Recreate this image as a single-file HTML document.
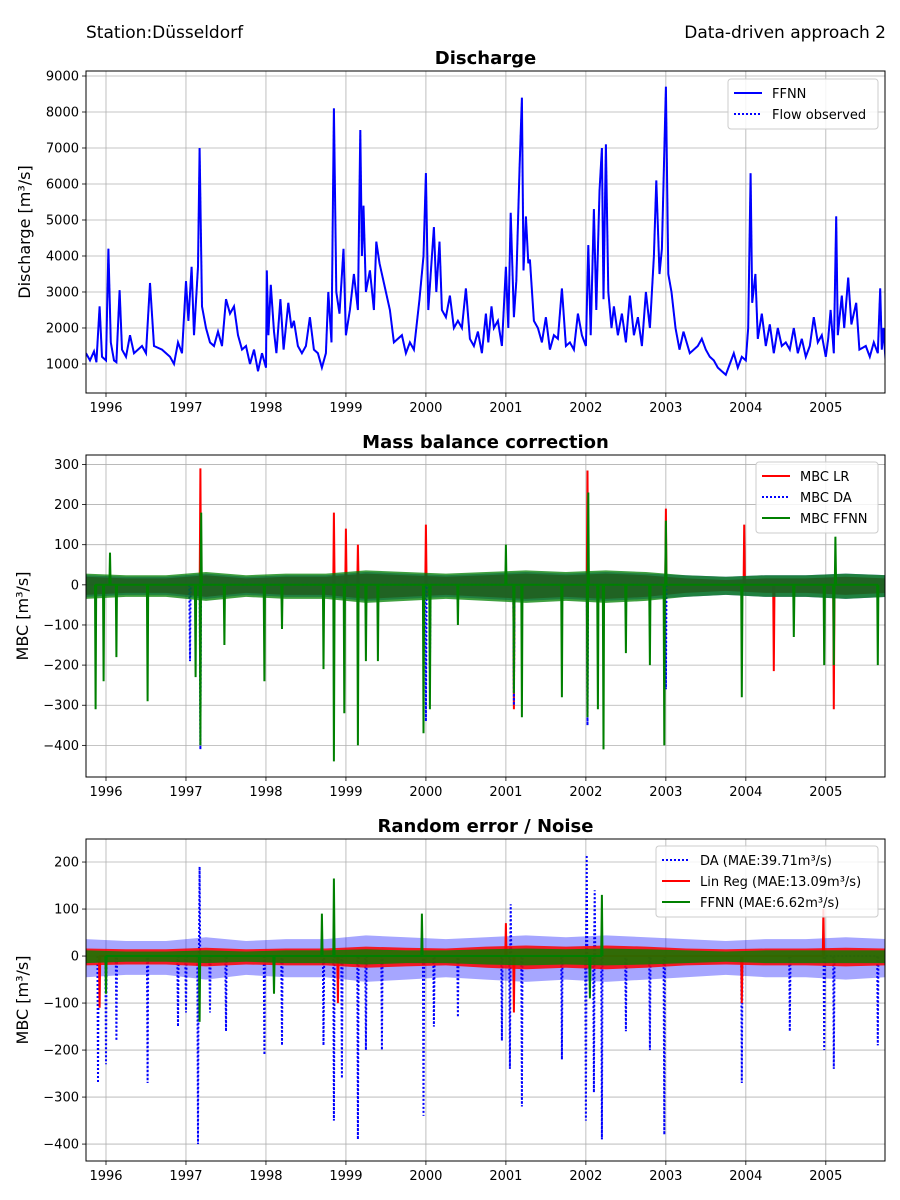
<!DOCTYPE html>
<html><head><meta charset="utf-8">
<style>
body{margin:0;background:#fff;}
svg{display:block;font-family:"DejaVu Sans","Liberation Sans",sans-serif;}
</style></head>
<body>
<svg id="chart" width="900" height="1200" viewBox="0 0 900 1200" xmlns="http://www.w3.org/2000/svg">
<text x="86" y="38" font-size="17">Station:Düsseldorf</text>
<text x="886" y="38" font-size="17" text-anchor="end">Data-driven approach 2</text>
</svg>
<script>
// ---------- data ----------
const years = [1996,1997,1998,1999,2000,2001,2002,2003,2004,2005];
const flowTicks = [1000,2000,3000,4000,5000,6000,7000,8000,9000];
const mbcTicks = [-400,-300,-200,-100,0,100,200,300];
const noiseTicks = [-400,-300,-200,-100,0,100,200];

const flowDates = [1995.75,1995.8,1995.85,1995.88,1995.92,1995.95,1996.0,1996.03,1996.06,1996.1,1996.13,1996.17,1996.2,1996.25,1996.3,1996.35,1996.45,1996.5,1996.55,1996.6,1996.7,1996.8,1996.85,1996.9,1996.95,1997.0,1997.03,1997.07,1997.1,1997.15,1997.17,1997.2,1997.25,1997.3,1997.35,1997.4,1997.45,1997.5,1997.55,1997.6,1997.65,1997.7,1997.75,1997.8,1997.85,1997.9,1997.95,1998.0,1998.01,1998.03,1998.06,1998.1,1998.13,1998.18,1998.22,1998.28,1998.32,1998.35,1998.4,1998.45,1998.5,1998.55,1998.6,1998.65,1998.7,1998.75,1998.78,1998.82,1998.85,1998.88,1998.92,1998.97,1999.0,1999.05,1999.1,1999.15,1999.18,1999.2,1999.22,1999.25,1999.3,1999.35,1999.38,1999.42,1999.5,1999.55,1999.6,1999.7,1999.75,1999.8,1999.85,1999.92,1999.97,2000.0,2000.03,2000.06,2000.1,2000.13,2000.17,2000.2,2000.25,2000.3,2000.35,2000.4,2000.45,2000.5,2000.55,2000.6,2000.65,2000.7,2000.75,2000.78,2000.82,2000.85,2000.9,2000.95,2001.0,2001.03,2001.06,2001.1,2001.13,2001.17,2001.2,2001.22,2001.25,2001.28,2001.3,2001.35,2001.4,2001.45,2001.5,2001.55,2001.6,2001.65,2001.7,2001.75,2001.8,2001.85,2001.9,2001.95,2002.0,2002.03,2002.06,2002.1,2002.13,2002.17,2002.2,2002.22,2002.25,2002.28,2002.32,2002.35,2002.4,2002.45,2002.5,2002.55,2002.6,2002.65,2002.7,2002.75,2002.8,2002.85,2002.88,2002.92,2002.95,2003.0,2003.03,2003.07,2003.12,2003.17,2003.22,2003.3,2003.4,2003.45,2003.5,2003.55,2003.6,2003.65,2003.7,2003.75,2003.8,2003.85,2003.9,2003.95,2004.0,2004.03,2004.06,2004.08,2004.12,2004.15,2004.2,2004.25,2004.3,2004.35,2004.4,2004.45,2004.5,2004.55,2004.6,2004.65,2004.7,2004.75,2004.8,2004.85,2004.9,2004.95,2005.0,2005.03,2005.06,2005.1,2005.13,2005.15,2005.2,2005.23,2005.28,2005.32,2005.38,2005.42,2005.5,2005.55,2005.6,2005.65,2005.68,2005.7,2005.72,2005.75];
const flowFFNN = [1300,1100,1350,1050,2600,1200,1100,4200,1600,1100,1050,3050,1400,1200,1800,1300,1500,1300,3250,1500,1400,1200,1000,1600,1300,3300,2200,3700,1800,3700,7000,2600,2000,1600,1500,1900,1500,2800,2400,2600,1800,1400,1500,1000,1400,800,1300,900,3600,1800,3200,1900,1300,2800,1400,2700,2000,2200,1500,1300,1500,2300,1400,1300,900,1300,3000,1600,8100,3000,2400,4200,1800,2500,3500,2500,7500,4000,5400,3000,3600,2500,4400,3800,3000,2500,1600,1800,1300,1600,1400,2800,4000,6300,2500,3500,4800,3000,4400,2500,2300,2900,2000,2200,2000,3100,1700,1500,1900,1300,2400,1600,2600,2000,2200,1500,3700,2000,5200,2300,3300,6400,8400,3600,5100,3800,3900,2200,2000,1600,2300,1400,1800,1700,3100,1500,1600,1400,2400,1800,1500,4300,1800,5300,2500,5800,7000,2800,7100,3000,2000,2600,1800,2400,1600,2900,1800,2300,1500,3000,2000,4000,6100,3500,4200,8700,3500,3000,2000,1400,1900,1300,1500,1700,1400,1200,1100,900,800,700,1000,1300,900,1200,1100,2000,6300,2700,3500,1700,2400,1500,2100,1300,2000,1500,1600,1400,2000,1300,1700,1200,1500,2300,1600,1800,1200,1700,2500,1300,5100,1800,2900,2000,3400,2100,2700,1400,1500,1200,1600,1300,3100,1400,2000,1000];
const flowObserved = flowFFNN.slice();

// band envelopes (semi-annual amplitude, m3/s), starting 1995.75, step 0.5
const bandDates = [1995.75,1996.25,1996.75,1997.25,1997.75,1998.25,1998.75,1999.25,1999.75,2000.25,2000.75,2001.25,2001.75,2002.25,2002.75,2003.25,2003.75,2004.25,2004.75,2005.25,2005.75];
const mbcLRAmp   = [25,20,20,30,20,25,25,35,30,25,30,35,30,35,30,20,15,20,20,25,20];
const mbcDAAmp   = [30,25,25,35,25,30,30,40,35,30,35,40,35,40,35,30,25,30,30,35,30];
const mbcFFNNAmp = [35,30,30,40,30,35,35,45,40,35,40,45,40,45,40,30,25,30,30,35,30];
const noiseDAAmp = [45,40,40,50,40,45,45,55,50,45,50,55,50,55,50,45,40,45,45,50,45];
const noiseLRAmp = [20,18,18,22,18,20,20,25,22,20,25,28,25,28,25,20,18,20,20,22,20];
const noiseFFNNAmp=[15,12,12,15,12,15,15,18,15,15,18,20,18,20,18,15,12,15,15,15,15];

const mbcFFNNSpikeT = [1995.87,1995.97,1996.05,1996.13,1996.52,1997.12,1997.18,1997.19,1997.48,1997.98,1998.2,1998.72,1998.85,1998.98,1999.15,1999.25,1999.4,1999.97,2000.05,2000.4,2001.0,2001.1,2001.2,2001.7,2002.02,2002.03,2002.15,2002.22,2002.5,2002.8,2002.98,2003.0,2003.95,2004.6,2004.98,2005.1,2005.12,2005.65];
const mbcFFNNSpikeV = [-310,-240,80,-180,-290,-230,-400,180,-150,-240,-110,-210,-440,-320,-400,-190,-190,-370,-310,-100,100,-270,-330,-280,-330,230,-310,-410,-170,-200,-400,160,-280,-130,-200,-200,120,-200];
const mbcLRSpikeT = [1997.18,1998.85,1999.0,1999.15,2000.0,2001.1,2002.02,2003.0,2003.98,2004.35,2005.1];
const mbcLRSpikeV = [290,180,140,100,150,-310,285,190,150,-215,-310];
const mbcDASpikeT = [1997.05,1997.18,2000.0,2000.05,2001.1,2002.02,2003.0];
const mbcDASpikeV = [-190,-410,-340,-210,-300,-350,-260];

const noiseDASpikeT = [1995.9,1996.0,1996.13,1996.52,1996.9,1997.0,1997.15,1997.17,1997.3,1997.5,1997.98,1998.2,1998.72,1998.85,1998.95,1999.15,1999.25,1999.45,1999.97,2000.1,2000.4,2000.95,2001.05,2001.06,2001.2,2001.7,2002.0,2002.01,2002.1,2002.11,2002.2,2002.5,2002.8,2002.98,2003.95,2004.55,2004.98,2005.1,2005.65];
const noiseDASpikeV = [-270,-230,-180,-270,-150,-120,-400,190,-120,-160,-210,-190,-190,-350,-260,-390,-200,-200,-340,-150,-130,-180,-240,110,-320,-220,-350,215,-290,140,-390,-160,-200,-380,-270,-160,-200,-240,-190];
const noiseLRSpikeT = [1995.92,1998.9,2001.0,2001.1,2003.95,2004.97];
const noiseLRSpikeV = [-110,-100,70,-120,-100,100];
const noiseFFNNSpikeT = [1996.0,1997.17,1998.1,1998.7,1998.85,1999.95,2002.05,2002.2];
const noiseFFNNSpikeV = [-80,-140,-80,90,165,90,-90,130];

// ---------- drawing ----------
const NS = "http://www.w3.org/2000/svg";
const svg = document.getElementById('chart');
const X0 = 86, X1 = 885, T0 = 1995.75, T1 = 2005.74;
function xs(t){ return X0 + (t - T0) * (X1 - X0) / (T1 - T0); }
function mk(tag, attrs, parent){
  const e = document.createElementNS(NS, tag);
  for (const k in attrs) e.setAttribute(k, attrs[k]);
  (parent || svg).appendChild(e);
  return e;
}
function makeAxis(top, bottom, vTop, vBot, ticks, title, ylabel, name){
  const g = mk('g', {});
  
  
  const ys = v => top + (vTop - v) * (bottom - top) / (vTop - vBot);
  const clipId = name + '-clip';
  const cp = mk('clipPath', {id: clipId}, g);
  mk('rect', {x: X0, y: top, width: X1 - X0, height: bottom - top}, cp);
  const grid = mk('g', {}, g);
  
  
  years.forEach(y => {
    const x = xs(y);
    mk('line', {x1: x, x2: x, y1: top, y2: bottom, stroke: '#b0b0b0', 'stroke-width': 0.8}, grid);
    mk('line', {x1: x, x2: x, y1: bottom, y2: bottom + 4, stroke: '#000', 'stroke-width': 0.8}, g);
    const t = mk('text', {x: x, y: bottom + 19, 'font-size': 13, 'text-anchor': 'middle'}, g);
    
    
    t.textContent = y;
  });
  ticks.forEach(v => {
    const y = ys(v);
    mk('line', {x1: X0, x2: X1, y1: y, y2: y, stroke: '#b0b0b0', 'stroke-width': 0.8}, grid);
    mk('line', {x1: X0 - 4, x2: X0, y1: y, y2: y, stroke: '#000', 'stroke-width': 0.8}, g);
    const t = mk('text', {x: X0 - 7, y: y + 4.5, 'font-size': 13, 'text-anchor': 'end'}, g);
    
    
    t.textContent = v < 0 ? '\u2212' + (-v) : v;
  });
  const tt = mk('text', {x: (X0 + X1) / 2, y: top - 7, 'font-size': 18, 'font-weight': 'bold', 'text-anchor': 'middle'}, g);
  
  
  tt.textContent = title;
  const yl = mk('text', {x: 0, y: 0, 'font-size': 16, 'text-anchor': 'middle', transform: `translate(${ylabel.x},${(top + bottom) / 2}) rotate(-90)`}, g);
  
  
  yl.textContent = ylabel.text;
  const plot = mk('g', {'clip-path': `url(#${clipId})`}, g);
  
  
  return {g, plot, ys, top, bottom};
}
function frame(ax){
  mk('rect', {x: X0, y: ax.top, width: X1 - X0, height: ax.bottom - ax.top, fill: 'none', stroke: '#000', 'stroke-width': 1}, ax.g);
}
function line(ax, ts, vs, color, dash, w, name){
  const pts = ts.map((t, i) => xs(t).toFixed(1) + ',' + ax.ys(vs[i]).toFixed(1)).join(' ');
  const p = mk('polyline', {points: pts, fill: 'none', stroke: color, 'stroke-width': w, 'stroke-dasharray': dash || 'none'}, ax.plot);
  
  
}
function series(ax, amp, spT, spV, color, dash, op, name){
  const up = bandDates.map((t, i) => xs(t).toFixed(1) + ',' + ax.ys(amp[i] * 0.8).toFixed(1));
  const dn = bandDates.map((t, i) => xs(t).toFixed(1) + ',' + ax.ys(-amp[i]).toFixed(1)).reverse();
  const b = mk('polygon', {points: up.concat(dn).join(' '), fill: color, opacity: op}, ax.plot);
  
  
  const ts = [], vs = [];
  spT.forEach((t, i) => { ts.push(t - 0.008, t, t + 0.008); vs.push(0, spV[i], 0); });
  line(ax, ts, vs, color, dash, 2, name + '-spikes');
}
function legend(ax, x, y, w, entries){
  const g = mk('g', {}, ax.g);
  
  
  mk('rect', {x, y, width: w, height: entries.length * 21 + 8, rx: 3, fill: '#fff', 'fill-opacity': 0.85, stroke: '#ccc'}, g);
  entries.forEach((e, i) => {
    const yy = y + 14 + i * 21;
    const it = mk('g', {}, g);
    
    
    mk('line', {x1: x + 6, x2: x + 34, y1: yy, y2: yy, stroke: e.c, 'stroke-width': 2, 'stroke-dasharray': e.d || 'none'}, it);
    const t = mk('text', {x: x + 44, y: yy + 5, 'font-size': 13}, it);
    t.textContent = e.l;
  });
}

// Panel 1
const a1 = makeAxis(71, 393, 9139, 194, flowTicks, 'Discharge', {x: 30, text: 'Discharge [m³/s]'}, 'discharge-panel');
line(a1, flowDates, flowFFNN, '#0000ff', null, 2, 'ffnn-flow-line');
line(a1, flowDates, flowObserved, '#0000ff', '2,2', 1.5, 'observed-flow-line');
frame(a1);
legend(a1, 728, 79, 150, [{c: '#0000ff', l: 'FFNN'}, {c: '#0000ff', d: '2,2', l: 'Flow observed'}]);

// Panel 2
const a2 = makeAxis(455, 777, 323.5, -478.8, mbcTicks, 'Mass balance correction', {x: 28, text: 'MBC [m³/s]'}, 'mbc-panel');
series(a2, mbcLRAmp, mbcLRSpikeT, mbcLRSpikeV, '#ff0000', null, 0.9, 'mbc-lr');
series(a2, mbcDAAmp, mbcDASpikeT, mbcDASpikeV, '#0000ff', '2,2', 0.5, 'mbc-da');
series(a2, mbcFFNNAmp, mbcFFNNSpikeT, mbcFFNNSpikeV, '#008000', null, 0.75, 'mbc-ffnn');
frame(a2);
legend(a2, 756, 462, 122, [{c: '#ff0000', l: 'MBC LR'}, {c: '#0000ff', d: '2,2', l: 'MBC DA'}, {c: '#008000', l: 'MBC FFNN'}]);

// Panel 3
const a3 = makeAxis(839, 1161, 249, -436, noiseTicks, 'Random error / Noise', {x: 28, text: 'MBC [m³/s]'}, 'noise-panel');
series(a3, noiseDAAmp, noiseDASpikeT, noiseDASpikeV, '#0000ff', '2,2', 0.35, 'noise-da');
series(a3, noiseLRAmp, noiseLRSpikeT, noiseLRSpikeV, '#ff0000', null, 0.85, 'noise-lr');
series(a3, noiseFFNNAmp, noiseFFNNSpikeT, noiseFFNNSpikeV, '#008000', null, 0.8, 'noise-ffnn');
frame(a3);
legend(a3, 656, 846, 222, [{c: '#0000ff', d: '2,2', l: 'DA (MAE:39.71m³/s)'}, {c: '#ff0000', l: 'Lin Reg (MAE:13.09m³/s)'}, {c: '#008000', l: 'FFNN (MAE:6.62m³/s)'}]);
</script>
</body></html>
